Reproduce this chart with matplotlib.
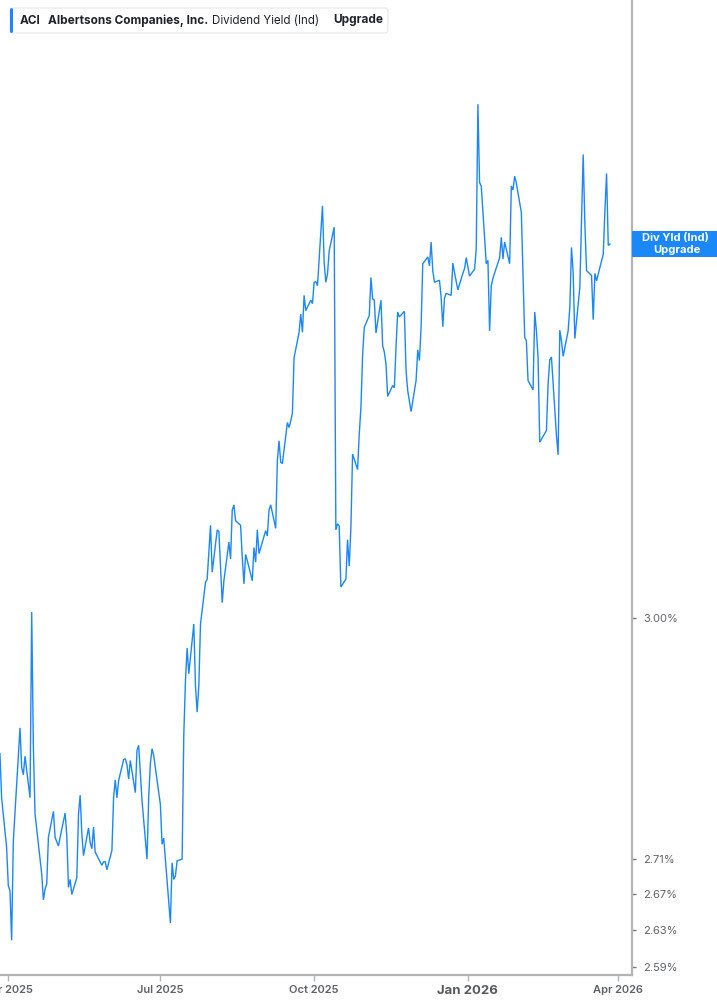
import matplotlib
matplotlib.use("Agg")
import matplotlib.pyplot as plt
import matplotlib.dates as mdates
from matplotlib.patches import FancyBboxPatch, Rectangle
from matplotlib.ticker import FixedLocator, FixedFormatter, NullLocator
import pandas as pd

plt.rcParams['font.family'] = ['Inter', 'DejaVu Sans']

# ACI indicated dividend yield (%), daily closes
yield_pct = [
    2.833, 2.833, 2.781, 2.723, 2.680, 2.674, 2.619, 2.731, 2.829, 2.864,
    2.817, 2.808, 2.830, 2.781, 3.007, 2.841, 2.762, 2.693, 2.664, 2.676,
    2.682, 2.735, 2.765, 2.735, 2.730, 2.725, 2.735, 2.763, 2.737, 2.678,
    2.687, 2.670, 2.689, 2.762, 2.784, 2.739, 2.714, 2.746, 2.729, 2.722,
    2.747, 2.718, 2.703, 2.707, 2.707, 2.698, 2.720, 2.781, 2.802, 2.781,
    2.801, 2.826, 2.827, 2.820, 2.803, 2.825, 2.787, 2.837, 2.843, 2.778,
    2.710, 2.781, 2.821, 2.839, 2.831, 2.787, 2.773, 2.727, 2.734, 2.638,
    2.706, 2.687, 2.691, 2.708, 2.710, 2.855, 2.921, 2.962, 2.930, 2.992,
    2.915, 2.883, 2.915, 2.992, 3.045, 3.049, 3.084, 3.119, 3.058, 3.113,
    3.111, 3.064, 3.019, 3.047, 3.097, 3.075, 3.139, 3.146, 3.125, 3.119,
    3.077, 3.043, 3.081, 3.073, 3.047, 3.090, 3.071, 3.113, 3.082, 3.112,
    3.105, 3.139, 3.146, 3.115, 3.205, 3.232, 3.203, 3.201, 3.257, 3.250,
    3.259, 3.270, 3.347, 3.383, 3.409, 3.383, 3.436, 3.414, 3.429, 3.424,
    3.455, 3.456, 3.450, 3.568, 3.484, 3.455, 3.467, 3.501, 3.536, 3.113,
    3.121, 3.118, 3.039, 3.049, 3.100, 3.066, 3.116, 3.214, 3.193, 3.241,
    3.278, 3.350, 3.390, 3.407, 3.462, 3.431, 3.429, 3.382, 3.429, 3.364,
    3.355, 3.338, 3.293, 3.308, 3.305, 3.362, 3.412, 3.405, 3.413, 3.329,
    3.301, 3.272, 3.315, 3.358, 3.343, 3.390, 3.482, 3.492, 3.479, 3.514,
    3.472, 3.455, 3.458, 3.433, 3.391, 3.432, 3.439, 3.436, 3.483, 3.469,
    3.444, 3.468, 3.475, 3.491, 3.464, 3.474, 3.504, 3.724, 3.603, 3.598,
    3.482, 3.487, 3.385, 3.450, 3.461, 3.491, 3.521, 3.489, 3.514, 3.482,
    3.598, 3.592, 3.613, 3.602, 3.558, 3.467, 3.376, 3.371, 3.315, 3.302,
    3.412, 3.385, 3.347, 3.230, 3.246, 3.310, 3.344, 3.348, 3.239, 3.213,
    3.386, 3.371, 3.349, 3.385, 3.419, 3.506, 3.469, 3.374, 3.448, 3.543,
    3.646, 3.541, 3.472, 3.465, 3.401, 3.468, 3.457, 3.467, 3.496, 3.561,
    3.617, 3.509, 3.511,
]

# NYSE market holidays in the period
market_holidays = [
    "2025-04-18", "2025-05-26", "2025-06-19", "2025-07-04", "2025-09-01",
    "2025-11-27", "2025-12-25", "2026-01-01", "2026-01-19", "2026-02-16",
]
last_session = "2026-03-27"

y_ticks = [2.59, 2.63, 2.67, 2.71, 3.00]
y_tick_labels = ["2.59%", "2.63%", "2.67%", "2.71%", "3.00%"]
x_ticks = ["2025-04-01", "2025-07-01", "2025-10-01", "2026-01-01", "2026-04-01"]
x_tick_labels = ["Apr 2025", "Jul 2025", "Oct 2025", "Jan 2026", "Apr 2026"]

ticker = "ACI"
company = "Albertsons Companies, Inc."
metric = "Dividend Yield (Ind)"

dates = pd.bdate_range(end=last_session, periods=len(yield_pct), freq="C",
                       holidays=market_holidays)

BLUE = "#1a88f8"
GREY_SPINE = "#b4b4b4"
TEXT_GREY = "#5f6368"

W, H = 717, 1005
fig = plt.figure(figsize=(W / 100, H / 100), dpi=100)
fig.patch.set_facecolor("white")

ax = fig.add_axes([0, 30 / H, 632 / W, 975 / H])
ax.plot(dates, yield_pct, color=BLUE, lw=1.0, solid_joinstyle="miter")

ax.set_yscale("log")
ax.set_ylim(2.581, 3.891)
ax.set_xlim(pd.Timestamp("2025-03-27 00:45"), pd.Timestamp("2026-04-09 05:00"))

ax.yaxis.tick_right()
ax.yaxis.set_major_locator(FixedLocator(y_ticks))
ax.yaxis.set_major_formatter(FixedFormatter(y_tick_labels))
ax.yaxis.set_minor_locator(NullLocator())
ax.tick_params(axis="y", which="major", length=3, width=1, color="#777777",
               labelsize=8, labelcolor=TEXT_GREY, pad=5)

ax.set_xticks(pd.to_datetime(x_ticks))
ax.set_xticklabels(x_tick_labels)
ax.tick_params(axis="x", length=4, width=1, color=GREY_SPINE, labelsize=8,
               labelcolor=TEXT_GREY, pad=3)
for lbl in ax.get_xticklabels():
    if lbl.get_text().startswith("Jan"):
        lbl.set_fontweight("bold")
        lbl.set_fontsize(9.5)
        lbl.set_color("#55595e")
    else:
        lbl.set_fontweight("semibold")

for side in ("top", "left"):
    ax.spines[side].set_visible(False)
for side in ("right", "bottom"):
    ax.spines[side].set_color(GREY_SPINE)
    ax.spines[side].set_linewidth(1.6)
ax.set_facecolor("white")

# current-value tag on the right axis
fig.canvas.draw()
y_disp = ax.transData.transform((mdates.date2num(dates[-1]), yield_pct[-1]))[1]
yc = y_disp / H
tag_h = 26 / H
fig.patches.append(Rectangle((632 / W, yc - tag_h / 2), 85 / W, tag_h,
                             transform=fig.transFigure, facecolor=BLUE,
                             edgecolor="none", zorder=5))
fig.text(675 / W, yc + 6 / H, "Div Yld (Ind)", color="white", fontsize=8,
         fontweight="bold", ha="center", va="center", zorder=6)
fig.text(677 / W, yc - 5.5 / H, "Upgrade", color="white", fontsize=8,
         fontweight="bold", ha="center", va="center", zorder=6)

# legend header
hx0, hx1, hy0, hy1 = 10, 388, 8, 33
fig.patches.append(FancyBboxPatch((hx0 / W, 1 - hy1 / H), (hx1 - hx0) / W,
                                  (hy1 - hy0) / H,
                                  boxstyle="round,pad=0,rounding_size=0.004",
                                  transform=fig.transFigure, facecolor="white",
                                  edgecolor="#e4e6ea", linewidth=0.8, zorder=5))
fig.patches.append(FancyBboxPatch((hx0 / W, 1 - hy1 / H), 3 / W, (hy1 - hy0) / H,
                                  boxstyle="round,pad=0,rounding_size=0.002",
                                  transform=fig.transFigure, facecolor=BLUE,
                                  edgecolor="none", zorder=6))
ty = 1 - 20.5 / H
fig.text(20 / W, ty, ticker, fontsize=8.5, fontweight="bold", color="#1f2328",
         va="center", ha="left", zorder=7)
fig.text(48 / W, ty, company, fontsize=8.5, fontweight="bold", color="#1f2328",
         va="center", ha="left", zorder=7)
fig.text(212 / W, ty, metric, fontsize=8.3, color="#1f2328",
         va="center", ha="left", zorder=7)
fig.text(333 / W, ty, "Upgrade", fontsize=8.5, fontweight="bold", color="#1f2328",
         va="center", ha="left", zorder=7)

fig.savefig("out.png", dpi=100, facecolor="white")
